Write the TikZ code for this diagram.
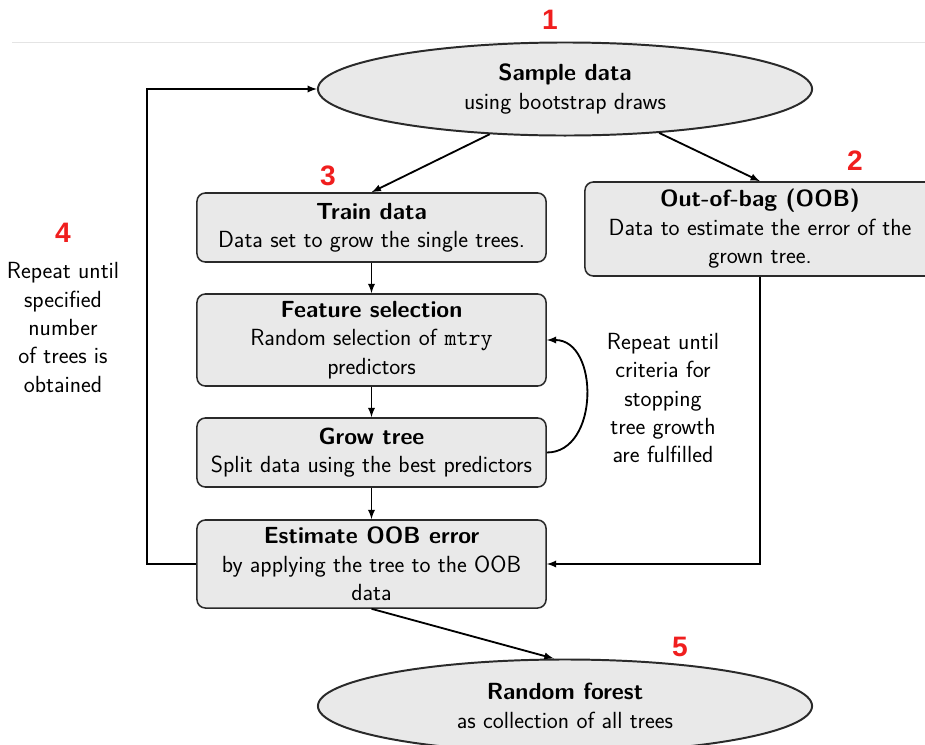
\documentclass[tikz,border=0pt]{standalone}
\usepackage{fontspec}
\usepackage{tikz}
\usetikzlibrary{shapes.geometric,arrows}
\newfontfamily\numfont{Liberation Sans}
\definecolor{boxgray}{HTML}{E9E9E9}
\definecolor{edgegray}{HTML}{2A2A2A}
\definecolor{numred}{HTML}{F01E1E}
\definecolor{rulegray}{HTML}{E4E4E4}

\begin{document}
\begin{tikzpicture}[x=0.025cm,y=-0.025cm]
                \tikzstyle{every node}+=[inner sep=0pt,align=center,font=\sffamily\fontsize{16.6}{20.2}\selectfont]
                \tikzstyle{oval}=[ellipse,draw=edgegray,fill=boxgray,line width=1.4pt,minimum width=12.35cm,minimum height=2.325cm]
                \tikzstyle{stage}=[rectangle,rounded corners=6pt,draw=edgegray,fill=boxgray,line width=1.1pt,minimum width=8.725cm]
                \tikzstyle{flow}=[black,line width=1.3pt,-latex]
                \tikzstyle{num}=[text=numred,font=\numfont\bfseries\fontsize{20}{24}\selectfont]
                \useasboundingbox (0,0) rectangle (925,744);
                \draw [rulegray,line width=0.6pt] (12,42) -- (925,42);
                \node [oval] (sample) at (565,89) {\textbf{Sample data}\\using bootstrap draws};
                \node [stage,minimum height=1.725cm] (train) at (371.5,227.5) {\textbf{Train data}\\Data set to grow the single trees.};
                \node [stage,minimum width=8.75cm,minimum height=2.35cm] (oob) at (760,229) {\textbf{Out-of-bag (OOB)}\\Data to estimate the error of the\\grown tree.};
                \node [stage,minimum height=2.3cm] (feature) at (371.5,340) {\textbf{Feature selection}\\Random selection of \texttt{mtry}\\predictors};
                \node [stage,minimum height=1.725cm] (grow) at (371.5,452.5) {\textbf{Grow tree}\\Split data using the best predictors};
                \node [stage,minimum height=2.2cm] (estimate) at (371.5,564) {\textbf{Estimate OOB error}\\by applying the tree to the OOB\\data};
                \node [oval] (forest) at (565,706) {\textbf{Random forest}\\as collection of all trees};
                \node (outer) at (63,327.5) {Repeat until\\specified\\number\\of trees is\\obtained};
                \node (inner) at (663,398) {Repeat until\\criteria for\\stopping\\tree growth\\are fulfilled};
                \node [num] (n1) at (550,20) {1};
                \node [num] (n2) at (855,161) {2};
                \node [num] (n3) at (328,176) {3};
                \node [num] (n4) at (63,233) {4};
                \node [num] (n5) at (680,647) {5};
                \draw [flow] (sample.-149) -- (train.north);
                \draw [flow] (sample.-25) -- (oob.north);
                \draw [flow] (train) -- (feature);
                \draw [flow] (feature) -- (grow);
                \draw [flow] (grow) -- (estimate);
                \draw [flow] (estimate.south) -- ([xshift=-8pt]forest.north);
                \draw [flow] (grow.east) to [out=0,in=0,looseness=1.2] (feature.east);
                \draw [flow] (estimate.west) -- ++(-49,0) |- (sample.west);
                \draw [flow] (oob.south) |- (estimate.east);
              \end{tikzpicture}
\end{document}
